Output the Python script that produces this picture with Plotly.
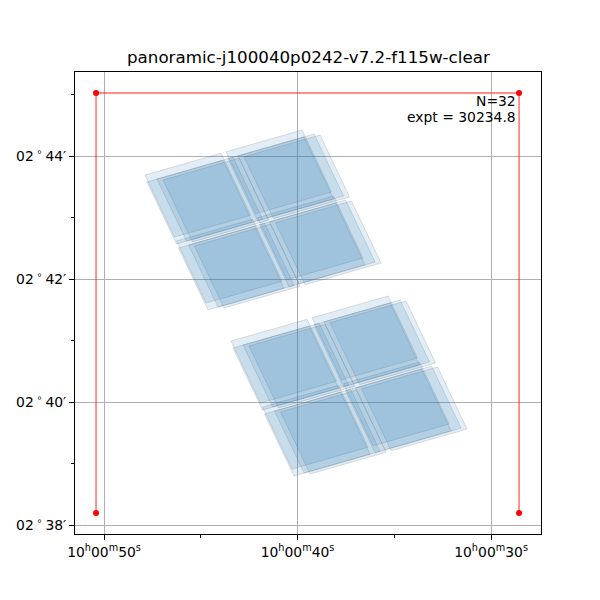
import plotly.graph_objects as go

# Footprint corners (first exposure) per detector: RA in seconds past 10h00m, Dec in arcmin past +02deg
det_ra = [
    [47.881, 43.953, 42.429, 46.357],
    [43.695, 39.767, 38.243, 42.171],
    [46.253, 42.326, 40.801, 44.729],
    [42.067, 38.139, 36.615, 40.543],
    [43.437, 39.509, 37.985, 41.913],
    [39.251, 35.323, 33.799, 37.727],
    [41.809, 37.882, 36.357, 40.285],
    [37.623, 33.695, 32.171, 36.099],
]
det_dec = [
    [43.691, 44.045, 43.037, 42.683],
    [44.069, 44.423, 43.415, 43.061],
    [42.618, 42.972, 41.963, 41.610],
    [42.996, 43.350, 42.341, 41.988],
    [40.992, 41.346, 40.338, 39.984],
    [41.370, 41.724, 40.716, 40.362],
    [39.919, 40.273, 39.264, 38.911],
    [40.297, 40.651, 39.642, 39.289],
]
# Offsets of the four exposures
dither_dra = [0.0, -0.103, -0.620, -0.930]
dither_ddec = [0.0, -0.114, -0.065, -0.081]

# Red bounding box corners
box_ra = [50.413, 50.413, 28.553, 28.553]
box_dec = [38.195, 45.024, 45.024, 38.195]

title = "panoramic-j100040p0242-v7.2-f115w-clear"
n_exp = 32
expt = 30234.8

x_tickvals = [50, 40, 30]
x_ticktext = ["10<sup>h</sup>00<sup>m</sup>50<sup>s</sup>",
              "10<sup>h</sup>00<sup>m</sup>40<sup>s</sup>",
              "10<sup>h</sup>00<sup>m</sup>30<sup>s</sup>"]
x_minor = [45, 35]
y_tickvals = [38, 40, 42, 44]
y_ticktext = ["02\u2009<sup>∘</sup>\u200938′", "02\u2009<sup>∘</sup>\u200940′",
              "02\u2009<sup>∘</sup>\u200942′", "02\u2009<sup>∘</sup>\u200944′"]
y_minor = [39, 41, 43, 45]

fig = go.Figure()
for k in range(len(dither_dra)):
    for d in range(len(det_ra)):
        xs = [v + dither_dra[k] for v in det_ra[d]]
        ys = [v + dither_ddec[k] for v in det_dec[d]]
        xs.append(xs[0]); ys.append(ys[0])
        fig.add_trace(go.Scatter(
            x=xs, y=ys, mode="lines", fill="toself",
            fillcolor="rgba(31,119,180,0.13)",
            line=dict(color="rgba(90,100,110,0.2)", width=1),
            hoverinfo="skip", showlegend=False))

fig.add_trace(go.Scatter(
    x=box_ra, y=box_dec, mode="lines",
    line=dict(color="rgba(255,0,0,0.6)", width=1.4),
    showlegend=False, hoverinfo="skip"))
fig.add_trace(go.Scatter(
    x=box_ra, y=box_dec, mode="markers",
    marker=dict(color="red", size=6),
    showlegend=False, hoverinfo="skip"))

font = "DejaVu Sans, sans-serif"
axis_common = dict(
    showline=True, mirror=True, linecolor="black", linewidth=1,
    ticks="outside", ticklen=5, tickwidth=1, tickcolor="black",
    showgrid=True, gridcolor="#b0b0b0", gridwidth=1, zeroline=False,
    automargin=False,
    tickfont=dict(family=font, size=13.9, color="black"),
)
fig.update_xaxes(range=[51.50, 27.42], tickmode="array", tickvals=x_tickvals,
                 ticktext=x_ticktext,
                 minor=dict(tickmode="array", tickvals=x_minor, ticks="outside",
                            ticklen=3, tickcolor="black", showgrid=False),
                 **axis_common)
fig.update_yaxes(range=[37.854, 45.366], tickmode="array", tickvals=y_tickvals,
                 ticktext=y_ticktext,
                 minor=dict(tickmode="array", tickvals=y_minor, ticks="outside",
                            ticklen=3, tickcolor="black", showgrid=False),
                 **axis_common)

fig.add_annotation(text=title, xref="paper", yref="paper", x=0.5, y=1,
                   xanchor="center", yanchor="bottom", yshift=3, showarrow=False,
                   font=dict(family=font, size=16.7, color="black"))
fig.add_annotation(text=f"N={n_exp}", xref="paper", yref="paper",
                   x=0.951, y=0.938, xanchor="right", yanchor="middle", align="right",
                   showarrow=False, font=dict(family=font, size=13.9, color="black"))
fig.add_annotation(text=f"expt = {expt}", xref="paper", yref="paper",
                   x=0.951, y=0.902, xanchor="right", yanchor="middle", align="right",
                   showarrow=False, font=dict(family=font, size=13.9, color="black"))

fig.update_layout(width=592, height=592, margin=dict(l=67, r=59, t=64, b=66),
                  plot_bgcolor="white", paper_bgcolor="white")
fig.write_html("out.html")
